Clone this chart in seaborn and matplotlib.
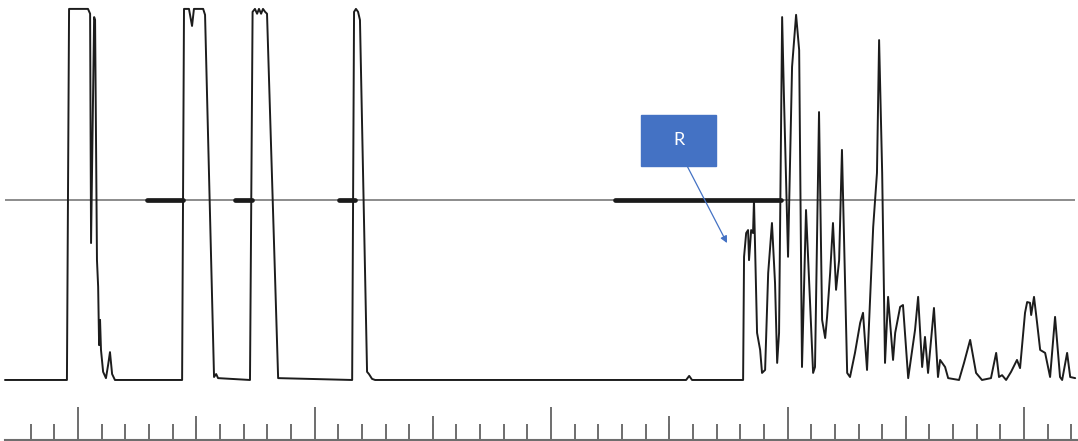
import matplotlib
matplotlib.use("Agg")
import matplotlib.pyplot as plt
from matplotlib.patches import Rectangle
import seaborn as sns

# trace: time in ruler units, response in % of full scale
time = [-3.09, -0.47, -0.38, 0.42, 0.51, 0.55, 0.68, 0.72, 0.80, 0.85,
        0.89, 0.93, 0.97, 1.06, 1.18, 1.27, 1.35, 1.44, 1.56,
        4.40, 4.48, 4.69, 4.82, 4.90, 5.29, 5.37, 5.75, 5.84, 5.92,
        7.27, 7.38, 7.48, 7.57, 7.65, 7.74, 7.82, 7.91, 7.99, 8.46,
        11.59, 11.67, 11.75, 11.84, 11.92, 12.22, 12.30, 12.43, 12.56,
        25.71, 25.84, 25.96,
        28.12, 28.16, 28.25, 28.33, 28.37, 28.46, 28.54, 28.58, 28.71, 28.84,
        28.92, 29.05, 29.18, 29.34, 29.47, 29.56, 29.64, 29.77, 29.85, 30.02,
        30.19, 30.36, 30.49, 30.61, 30.78, 31.08, 31.16, 31.33, 31.46, 31.59,
        31.67, 31.80, 31.92, 32.05, 32.18, 32.30, 32.52, 32.64, 32.85, 33.07,
        33.19, 33.36, 33.62, 33.78, 33.87, 34.00, 34.12, 34.25, 34.46, 34.55,
        34.76, 34.88, 35.10, 35.39, 35.52, 35.69, 35.81, 35.94, 36.19, 36.36,
        36.45, 36.66, 36.79, 37.25, 37.46, 37.72, 37.97, 38.22, 38.60, 38.82,
        38.94, 39.07, 39.24, 39.45, 39.70, 39.83, 40.04, 40.13, 40.25, 40.30,
        40.42, 40.55, 40.68, 40.89, 41.10, 41.31, 41.52, 41.61, 41.82, 41.95,
        42.16]
response = [0, 0, 100, 100, 98.7, 36.9, 97.8, 97.0, 32.3, 25.1,
            9.4, 16.2, 8.1, 2.2, 0.5, 4.0, 7.5, 1.6, 0,
            0, 100, 100, 95.4, 100, 100, 98.4, 0.8, 1.6, 0.5,
            0, 99.2, 100, 98.7, 100, 98.7, 100, 99.2, 98.7, 0.5,
            0, 99.2, 100, 99.2, 97.0, 2.2, 1.6, 0.3, 0,
            0, 1.1, 0,
            0, 33.2, 39.6, 40.4, 32.3, 40.4, 39.6, 48.5, 12.7, 8.1,
            1.9, 2.7, 28.8, 42.3, 26.1, 4.6, 12.7, 97.8, 75.5, 33.2,
            84.4, 98.4, 88.9, 3.5, 45.8, 1.9, 3.5, 72.2, 16.2, 11.3,
            17.0, 28.8, 42.3, 24.3, 32.3, 62.0, 1.9, 0.8, 7.3, 15.4,
            18.1, 2.7, 41.2, 55.8, 91.6, 55.8, 4.6, 22.4, 5.4, 12.7,
            19.7, 20.2, 0.5, 13.5, 22.4, 3.5, 11.6, 1.9, 19.4, 0.8,
            5.4, 3.5, 0.5, 0, 4.6, 10.8, 1.9, 0, 0.5, 7.3,
            0.8, 1.3, 0, 2.2, 5.4, 3.2, 18.1, 21.0, 20.8, 17.5,
            22.4, 15.4, 8.1, 7.3, 0.8, 17.0, 0.8, 0, 7.3, 0.8,
            0.5]

threshold = 48.5
line_start, line_end = -3.09, 42.16
# heavy bars drawn on the threshold line
bar_start = [2.92, 6.64, 11.04, 22.71]
bar_end = [4.44, 7.36, 11.71, 29.73]

major_ticks = [0, 10, 20, 30, 40]
mid_ticks = [5, 15, 25, 35]
minor_ticks = list(range(-2, 43))

label = "R"
box_x = [23.81, 26.98]
box_y = [57.7, 71.4]
arrow_tail = (25.75, 57.7)
arrow_head = (27.44, 36.9)

xlim = (-3.30, 42.28)
ylim = (-2.7, 102.4)
blue = "#4472C4"
grey = "#6e6e6e"

sns.set_style("white")
fig = plt.figure(figsize=(10.78, 4.41), dpi=100)

ax = fig.add_axes([0, 51 / 441, 1, 390 / 441])
ax.set_axis_off()
ax.set_xlim(*xlim)
ax.set_ylim(*ylim)

ax.hlines(threshold, line_start, line_end, color=grey, lw=1.1, zorder=1)
sns.lineplot(x=time, y=response, ax=ax, color="#1c1c1c", lw=1.4,
             sort=False, estimator=None, zorder=2)
bars = ax.hlines([threshold] * len(bar_start), bar_start, bar_end,
                 color="#1a1a1a", lw=3.4, zorder=3)
bars.set_capstyle("round")

ax.add_patch(Rectangle((box_x[0], box_y[0]), box_x[1] - box_x[0],
                       box_y[1] - box_y[0], color=blue, zorder=4))
ax.text(sum(box_x) / 2, sum(box_y) / 2, label, color="white", fontsize=13,
        family="Lato", ha="center", va="center", zorder=5)
ax.annotate("", xy=arrow_head, xytext=arrow_tail,
            arrowprops=dict(arrowstyle="-|>", color=blue, lw=0.9,
                            mutation_scale=10, shrinkA=0, shrinkB=0),
            zorder=4)

# ruler along the bottom
rax = fig.add_axes([0, 1 / 441, 1, 40 / 441])
rax.patch.set_visible(False)
rax.set_xlim(*xlim)
rax.set_yticks([])
for side in ["top", "left", "right"]:
    rax.spines[side].set_visible(False)
rax.spines["bottom"].set_color(grey)
rax.spines["bottom"].set_linewidth(1.5)
rax.spines["bottom"].set_bounds(line_start, xlim[1])
rax.set_xticks(major_ticks)
rax.set_xticks(minor_ticks, minor=True)
rax.tick_params(axis="x", which="major", direction="in", length=23.8,
                width=1.4, color=grey, bottom=True, labelbottom=False)
rax.tick_params(axis="x", which="minor", direction="in", length=11.2,
                width=1.4, color=grey, bottom=True)

max_ = fig.add_axes([0, 1 / 441, 1, 40 / 441])
max_.patch.set_visible(False)
max_.set_xlim(*xlim)
max_.set_yticks([])
for side in max_.spines:
    max_.spines[side].set_visible(False)
max_.set_xticks(mid_ticks)
max_.tick_params(axis="x", direction="in", length=17.3, width=1.4,
                 color=grey, bottom=True, labelbottom=False)

fig.savefig("out.png", dpi=100)
